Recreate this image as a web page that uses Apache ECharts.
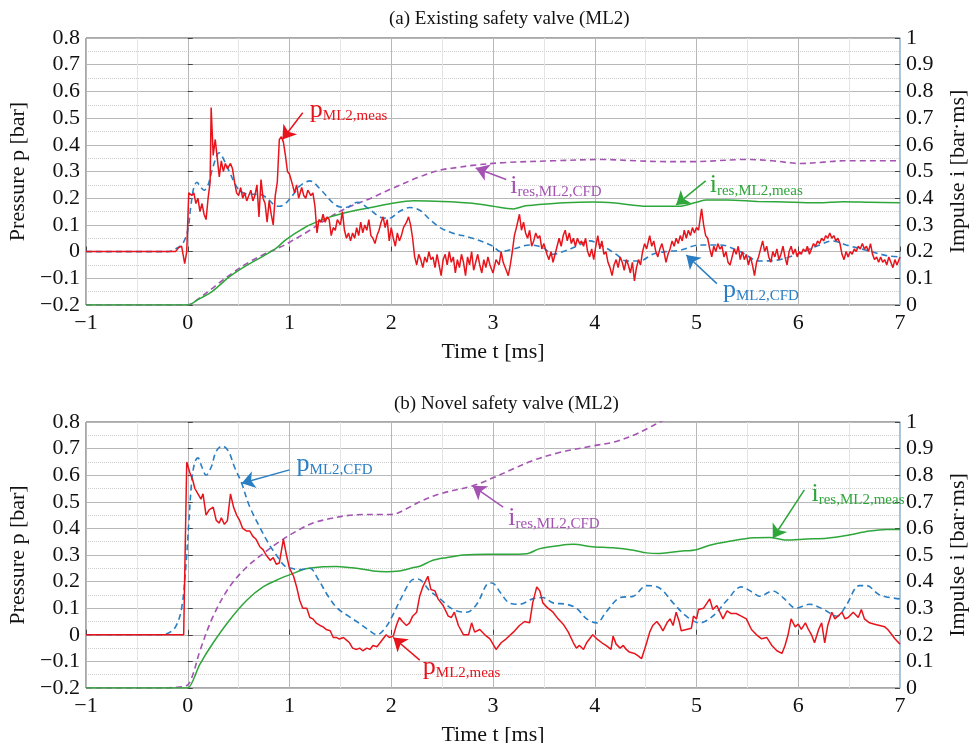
<!DOCTYPE html>
<html>
<head>
<meta charset="utf-8">
<script src="https://cdn.jsdelivr.net/npm/echarts@6/dist/echarts.min.js"></script>
<style>
  html, body { margin: 0; padding: 0; background: #fff; }
  #chart { width: 970px; height: 743px; }
</style>
</head>
<body>
<div id="chart"></div>
<script>
// (a) existing safety valve: [t (ms), value]
const measA = [[-1,0],[-0.12,0],[-0.09,0.015],[-0.06,0.02],[-0.03,-0.045],[-0.01,0.0],[0.01,0.22],[0.04,0.21],[0.06,0.22],[0.08,0.18],[0.1,0.2],[0.12,0.15],[0.14,0.18],[0.16,0.14],[0.18,0.12],[0.2,0.2],[0.22,0.26],[0.23,0.54],[0.25,0.36],[0.27,0.42],[0.29,0.35],[0.31,0.28],[0.33,0.34],[0.35,0.3],[0.37,0.33],[0.39,0.31],[0.42,0.33],[0.44,0.31],[0.46,0.26],[0.48,0.22],[0.5,0.21],[0.52,0.24],[0.54,0.2],[0.56,0.22],[0.58,0.19],[0.6,0.21],[0.62,0.23],[0.64,0.19],[0.66,0.21],[0.68,0.25],[0.7,0.13],[0.72,0.27],[0.74,0.2],[0.76,0.18],[0.78,0.11],[0.8,0.19],[0.82,0.14],[0.84,0.1],[0.86,0.21],[0.88,0.26],[0.9,0.42],[0.92,0.43],[0.94,0.41],[0.96,0.36],[0.98,0.3],[1.0,0.29],[1.03,0.25],[1.05,0.22],[1.07,0.25],[1.09,0.2],[1.12,0.24],[1.14,0.21],[1.16,0.2],[1.18,0.23],[1.21,0.21],[1.23,0.22],[1.25,0.17],[1.27,0.07],[1.29,0.12],[1.31,0.11],[1.33,0.14],[1.35,0.11],[1.37,0.13],[1.39,0.12],[1.41,0.06],[1.43,0.09],[1.45,0.08],[1.47,0.12],[1.5,0.1],[1.52,0.15],[1.54,0.08],[1.56,0.05],[1.58,0.07],[1.6,0.04],[1.62,0.07],[1.64,0.05],[1.66,0.09],[1.68,0.06],[1.7,0.11],[1.72,0.07],[1.74,0.1],[1.76,0.08],[1.78,0.12],[1.8,0.06],[1.82,0.05],[1.84,0.03],[1.86,0.06],[1.88,0.08],[1.9,0.11],[1.92,0.13],[1.94,0.09],[1.96,0.12],[1.98,0.04],[2.0,0.09],[2.02,0.05],[2.04,0.02],[2.06,0.07],[2.08,0.04],[2.1,0.06],[2.12,0.09],[2.15,0.11],[2.17,0.13],[2.19,0.1],[2.21,0.05],[2.23,-0.02],[2.25,-0.05],[2.27,-0.01],[2.29,-0.03],[2.31,-0.06],[2.33,-0.02],[2.35,-0.04],[2.37,0.0],[2.39,-0.03],[2.41,-0.02],[2.43,-0.06],[2.45,-0.01],[2.47,-0.05],[2.49,-0.09],[2.51,-0.03],[2.53,-0.01],[2.55,-0.05],[2.57,0.0],[2.59,-0.04],[2.61,-0.02],[2.63,-0.08],[2.65,-0.03],[2.67,-0.06],[2.69,-0.01],[2.71,-0.04],[2.73,-0.09],[2.75,-0.02],[2.77,-0.05],[2.79,0.0],[2.81,-0.07],[2.83,-0.04],[2.85,-0.01],[2.87,-0.05],[2.89,-0.08],[2.91,-0.03],[2.93,-0.06],[2.95,-0.02],[2.97,-0.05],[3.0,-0.08],[3.03,-0.03],[3.06,-0.05],[3.08,0.0],[3.1,-0.04],[3.13,-0.07],[3.15,-0.09],[3.17,-0.05],[3.19,0.0],[3.21,0.06],[3.23,0.09],[3.26,0.14],[3.28,0.08],[3.3,0.11],[3.32,0.07],[3.34,0.05],[3.36,0.08],[3.38,0.02],[3.4,0.04],[3.42,0.07],[3.44,0.05],[3.46,0.06],[3.48,0.01],[3.5,0.03],[3.53,-0.01],[3.55,-0.03],[3.57,0.0],[3.59,-0.04],[3.61,-0.01],[3.63,0.02],[3.65,0.05],[3.67,0.02],[3.69,0.06],[3.71,0.08],[3.73,0.04],[3.75,0.07],[3.77,0.03],[3.79,0.05],[3.81,0.02],[3.83,0.05],[3.85,0.03],[3.87,0.04],[3.89,0.02],[3.91,0.05],[3.93,0.0],[3.95,-0.02],[3.97,0.01],[3.99,-0.03],[4.01,0.02],[4.03,0.06],[4.05,0.01],[4.07,0.04],[4.09,-0.01],[4.11,0.0],[4.13,-0.04],[4.15,-0.06],[4.17,-0.09],[4.19,-0.05],[4.21,-0.03],[4.23,-0.06],[4.25,-0.02],[4.27,-0.04],[4.29,-0.07],[4.31,-0.03],[4.33,-0.05],[4.35,-0.08],[4.37,-0.04],[4.39,-0.11],[4.41,-0.06],[4.43,-0.03],[4.45,-0.05],[4.47,0.0],[4.49,0.03],[4.51,0.01],[4.54,0.06],[4.56,0.02],[4.58,0.04],[4.6,0.0],[4.62,-0.02],[4.64,0.01],[4.66,0.03],[4.68,0.0],[4.7,-0.04],[4.72,-0.01],[4.74,0.01],[4.76,0.04],[4.78,0.02],[4.8,0.05],[4.82,0.03],[4.84,0.06],[4.86,0.04],[4.88,0.08],[4.9,0.05],[4.92,0.08],[4.94,0.06],[4.96,0.09],[4.98,0.07],[5.0,0.09],[5.02,0.08],[5.05,0.16],[5.07,0.1],[5.09,0.06],[5.11,0.05],[5.13,0.01],[5.15,-0.02],[5.17,0.02],[5.19,0.0],[5.21,0.03],[5.23,0.01],[5.25,0.02],[5.27,-0.02],[5.29,0.0],[5.31,-0.04],[5.33,-0.05],[5.35,-0.02],[5.37,0.01],[5.39,-0.01],[5.41,0.02],[5.43,-0.03],[5.45,0.0],[5.47,-0.03],[5.49,-0.01],[5.51,-0.05],[5.53,-0.02],[5.55,-0.05],[5.57,-0.09],[5.59,-0.04],[5.61,-0.02],[5.63,0.01],[5.65,0.04],[5.67,0.0],[5.69,0.02],[5.71,-0.02],[5.73,-0.04],[5.75,0.0],[5.77,-0.02],[5.79,0.01],[5.81,-0.03],[5.83,-0.01],[5.85,0.02],[5.87,-0.02],[5.89,-0.05],[5.91,0.0],[5.93,0.02],[5.95,-0.01],[5.97,0.01],[5.99,-0.02],[6.01,0.0],[6.03,-0.01],[6.05,0.01],[6.07,0.0],[6.09,0.02],[6.11,-0.01],[6.13,0.01],[6.15,0.03],[6.17,0.02],[6.19,0.04],[6.21,0.03],[6.23,0.05],[6.25,0.04],[6.27,0.06],[6.29,0.05],[6.31,0.07],[6.33,0.05],[6.35,0.06],[6.37,0.04],[6.39,0.05],[6.41,0.03],[6.43,-0.01],[6.45,-0.03],[6.47,0.0],[6.49,-0.02],[6.51,0.0],[6.53,-0.01],[6.55,0.01],[6.57,0.0],[6.59,0.02],[6.61,0.01],[6.63,0.03],[6.65,0.01],[6.67,0.02],[6.69,0.0],[6.71,0.03],[6.73,-0.01],[6.75,-0.03],[6.77,-0.02],[6.79,-0.04],[6.81,-0.02],[6.83,-0.04],[6.85,-0.03],[6.87,-0.05],[6.89,-0.02],[6.91,-0.04],[6.93,-0.06],[6.95,-0.03],[6.97,-0.05],[7.0,-0.02]];
const cfdA = [[-1,0],[-0.2,0],[-0.12,0.01],[-0.05,0.03],[0,0.08],[0.03,0.17],[0.06,0.24],[0.09,0.26],[0.12,0.245],[0.16,0.23],[0.2,0.25],[0.25,0.32],[0.31,0.37],[0.36,0.34],[0.42,0.29],[0.47,0.25],[0.52,0.225],[0.6,0.215],[0.7,0.215],[0.78,0.2],[0.85,0.175],[0.9,0.17],[0.96,0.18],[1.03,0.21],[1.1,0.245],[1.2,0.265],[1.3,0.235],[1.45,0.175],[1.55,0.165],[1.67,0.185],[1.78,0.16],[1.9,0.128],[1.98,0.125],[2.08,0.15],[2.18,0.165],[2.28,0.155],[2.38,0.12],[2.48,0.09],[2.6,0.07],[2.8,0.05],[3.0,0.02],[3.07,0.0],[3.2,0.01],[3.36,0.025],[3.49,0.015],[3.59,-0.01],[3.69,0.0],[3.82,0.02],[3.95,0.04],[4.08,0.02],[4.21,-0.01],[4.31,-0.035],[4.44,-0.035],[4.57,-0.01],[4.7,0.0],[4.84,0.005],[5.03,0.025],[5.23,0.025],[5.43,0.0],[5.62,-0.035],[5.82,-0.03],[6.02,-0.005],[6.21,0.025],[6.34,0.04],[6.47,0.025],[6.67,0.005],[6.87,-0.015],[7.0,-0.02]];
const iCfdA = [[-1,0],[-0.1,0],[0,0.0],[0.1,0.022],[0.22,0.056],[0.3,0.08],[0.44,0.12],[0.6,0.16],[0.75,0.19],[0.9,0.215],[1.0,0.235],[1.2,0.28],[1.4,0.33],[1.6,0.37],[1.8,0.4],[2.0,0.435],[2.28,0.48],[2.48,0.505],[2.65,0.515],[2.8,0.523],[3.1,0.533],[3.59,0.54],[4.08,0.545],[4.41,0.54],[4.7,0.537],[4.97,0.537],[5.49,0.545],[5.75,0.54],[6.02,0.53],[6.25,0.535],[6.44,0.54],[7.0,0.54]];
const iMeasA = [[-1,0],[0,0],[0.1,0.02],[0.22,0.045],[0.3,0.07],[0.41,0.106],[0.5,0.13],[0.61,0.155],[0.75,0.185],[0.87,0.213],[0.95,0.24],[1.03,0.262],[1.12,0.283],[1.2,0.3],[1.4,0.33],[1.6,0.35],[1.8,0.365],[2.0,0.38],[2.22,0.39],[2.5,0.388],[2.77,0.382],[3.0,0.37],[3.2,0.36],[3.3,0.37],[3.45,0.376],[3.7,0.383],[3.98,0.386],[4.2,0.382],[4.51,0.37],[4.84,0.37],[5.0,0.385],[5.1,0.393],[5.3,0.393],[5.6,0.388],[5.95,0.385],[6.2,0.383],[6.44,0.387],[6.7,0.385],[7.0,0.383]];

// (b) novel safety valve
const measB = [[-1,0],[-0.04,0],[-0.01,0.65],[0.0,0.65],[0.02,0.61],[0.05,0.58],[0.07,0.55],[0.1,0.53],[0.13,0.51],[0.15,0.53],[0.18,0.45],[0.21,0.47],[0.25,0.48],[0.28,0.43],[0.31,0.42],[0.33,0.44],[0.36,0.415],[0.39,0.43],[0.42,0.53],[0.45,0.48],[0.48,0.45],[0.51,0.43],[0.54,0.4],[0.58,0.39],[0.61,0.39],[0.64,0.37],[0.67,0.36],[0.71,0.33],[0.74,0.32],[0.77,0.3],[0.81,0.28],[0.84,0.29],[0.87,0.265],[0.9,0.27],[0.94,0.36],[0.97,0.3],[1.0,0.25],[1.04,0.22],[1.07,0.18],[1.1,0.13],[1.13,0.1],[1.17,0.1],[1.2,0.065],[1.23,0.06],[1.26,0.045],[1.3,0.035],[1.33,0.03],[1.36,0.02],[1.4,0.015],[1.43,-0.01],[1.46,-0.01],[1.49,-0.016],[1.53,-0.01],[1.56,-0.02],[1.59,-0.03],[1.62,-0.05],[1.66,-0.055],[1.69,-0.05],[1.72,-0.06],[1.76,-0.05],[1.79,-0.055],[1.82,-0.04],[1.86,-0.045],[1.89,-0.03],[1.92,-0.015],[1.95,0.0],[1.98,-0.01],[2.02,-0.005],[2.05,0.035],[2.08,0.065],[2.11,0.05],[2.15,0.035],[2.18,0.045],[2.21,0.07],[2.25,0.085],[2.28,0.146],[2.31,0.18],[2.36,0.22],[2.39,0.17],[2.43,0.165],[2.46,0.135],[2.51,0.11],[2.56,0.07],[2.59,0.065],[2.62,0.085],[2.66,0.035],[2.71,0.0],[2.76,0.0],[2.79,0.045],[2.82,0.01],[2.87,0.02],[2.92,0.0],[2.97,-0.015],[3.0,-0.035],[3.03,-0.055],[3.08,-0.03],[3.13,-0.015],[3.2,0.01],[3.26,0.035],[3.31,0.05],[3.36,0.045],[3.39,0.12],[3.43,0.18],[3.46,0.165],[3.49,0.12],[3.54,0.1],[3.59,0.085],[3.64,0.06],[3.69,0.04],[3.74,0.01],[3.79,-0.03],[3.82,-0.05],[3.85,-0.04],[3.89,-0.055],[3.92,-0.03],[3.95,-0.015],[3.98,0.0],[4.02,-0.015],[4.07,-0.03],[4.11,-0.04],[4.16,-0.055],[4.18,-0.005],[4.21,-0.035],[4.25,-0.05],[4.28,-0.04],[4.31,-0.055],[4.34,-0.065],[4.39,-0.07],[4.43,-0.08],[4.46,-0.09],[4.51,-0.03],[4.54,0.01],[4.57,0.035],[4.61,0.05],[4.64,0.035],[4.67,0.015],[4.71,0.045],[4.74,0.06],[4.77,0.035],[4.8,0.085],[4.83,0.05],[4.85,0.015],[4.9,0.02],[4.95,0.025],[4.97,0.07],[5.0,0.06],[5.02,0.095],[5.07,0.1],[5.13,0.135],[5.16,0.095],[5.2,0.11],[5.23,0.085],[5.26,0.06],[5.3,0.09],[5.34,0.08],[5.39,0.08],[5.44,0.07],[5.49,0.06],[5.54,0.02],[5.59,0.0],[5.64,-0.015],[5.69,-0.01],[5.74,-0.04],[5.79,-0.06],[5.84,-0.07],[5.87,-0.04],[5.9,0.0],[5.93,0.06],[5.97,0.03],[6.0,0.04],[6.03,0.02],[6.07,0.045],[6.1,0.02],[6.13,0.0],[6.16,-0.03],[6.2,0.02],[6.23,0.045],[6.26,-0.03],[6.29,0.035],[6.33,0.085],[6.36,0.06],[6.39,0.07],[6.43,0.085],[6.46,0.06],[6.49,0.065],[6.54,0.085],[6.59,0.065],[6.62,0.095],[6.65,0.06],[6.7,0.045],[6.75,0.04],[6.8,0.035],[6.85,0.03],[6.88,0.02],[6.92,0.0],[6.95,-0.015],[7.0,-0.035]];
const cfdB = [[-1,0],[-0.3,0],[-0.2,0.005],[-0.12,0.03],[-0.06,0.1],[-0.02,0.25],[0.01,0.42],[0.04,0.58],[0.07,0.65],[0.1,0.665],[0.14,0.63],[0.18,0.6],[0.23,0.63],[0.28,0.69],[0.34,0.71],[0.4,0.69],[0.46,0.63],[0.53,0.57],[0.6,0.49],[0.7,0.41],[0.8,0.34],[0.87,0.3],[0.95,0.26],[1.02,0.25],[1.1,0.245],[1.2,0.25],[1.28,0.21],[1.38,0.145],[1.47,0.1],[1.58,0.07],[1.68,0.045],[1.77,0.02],[1.86,0.0],[1.94,0.025],[2.01,0.07],[2.1,0.14],[2.2,0.205],[2.26,0.21],[2.38,0.165],[2.48,0.135],[2.61,0.095],[2.74,0.085],[2.84,0.115],[2.94,0.19],[2.99,0.195],[3.07,0.16],[3.16,0.12],[3.26,0.115],[3.39,0.135],[3.49,0.14],[3.59,0.12],[3.72,0.115],[3.82,0.1],[3.92,0.06],[4.02,0.045],[4.11,0.085],[4.25,0.14],[4.38,0.145],[4.51,0.185],[4.64,0.175],[4.77,0.12],[4.9,0.07],[5.03,0.045],[5.16,0.07],[5.3,0.13],[5.44,0.18],[5.55,0.16],[5.62,0.145],[5.75,0.165],[5.85,0.14],[5.98,0.1],[6.11,0.115],[6.25,0.095],[6.38,0.07],[6.47,0.11],[6.6,0.185],[6.67,0.185],[6.8,0.15],[7.0,0.135]];
const iCfdB = [[-1,0],[-0.3,0],[-0.1,0.003],[0.0,0.012],[0.05,0.05],[0.12,0.14],[0.25,0.27],[0.41,0.38],[0.58,0.455],[0.74,0.505],[0.9,0.55],[1.07,0.59],[1.23,0.62],[1.39,0.636],[1.56,0.648],[1.72,0.652],[1.89,0.652],[2.02,0.653],[2.15,0.674],[2.28,0.7],[2.48,0.73],[2.8,0.76],[3.0,0.79],[3.2,0.824],[3.39,0.855],[3.66,0.886],[3.98,0.91],[4.18,0.924],[4.38,0.95],[4.51,0.974],[4.64,1.0],[4.75,1.02]];
const iMeasB = [[-1,0],[-0.02,0],[0.0,0.0],[0.12,0.09],[0.25,0.17],[0.41,0.255],[0.58,0.33],[0.74,0.38],[0.9,0.41],[1.03,0.43],[1.16,0.448],[1.33,0.456],[1.46,0.457],[1.66,0.45],[1.82,0.44],[1.95,0.437],[2.08,0.44],[2.21,0.452],[2.28,0.458],[2.41,0.48],[2.54,0.49],[2.71,0.5],[2.94,0.503],[3.13,0.503],[3.33,0.505],[3.46,0.524],[3.66,0.536],[3.79,0.54],[3.98,0.531],[4.18,0.527],[4.38,0.518],[4.51,0.508],[4.64,0.506],[4.84,0.514],[5.0,0.52],[5.13,0.537],[5.3,0.55],[5.56,0.565],[5.72,0.566],[5.88,0.556],[6.08,0.56],[6.28,0.563],[6.47,0.573],[6.7,0.59],[6.87,0.596],[7.0,0.596]];

const titles = ['(a) Existing safety valve (ML2)', '(b) Novel safety valve (ML2)'];

const FONT = 'Liberation Serif';
const RED = '#e8141c', BLUE = '#2a7fc4', PURPLE = '#a553b3', GREEN = '#2ea63a';

function num(v) {
  const s = String(Math.round(v * 10) / 10);
  return v < -1e-9 ? '\u2212' + s.replace('-', '') : s;
}

function xAx(g) {
  return {
    type: 'value', gridIndex: g, min: -1, max: 7, interval: 1,
    axisLine: { show: false },
    axisTick: { inside: true, length: 5, lineStyle: { color: '#444' } },
    minorTick: { show: false, splitNumber: 2 },
    axisLabel: { fontFamily: FONT, fontSize: 22, color: '#111', margin: 7, formatter: num },
    splitLine: { lineStyle: { color: '#b8b8b8' } },
    minorSplitLine: { show: true, lineStyle: { color: '#e4e4e4' } },
    name: 'Time t [ms]', nameLocation: 'middle', nameGap: 36,
    nameTextStyle: { fontFamily: FONT, fontSize: 22, color: '#111' }
  };
}
function yLeft(g) {
  return {
    type: 'value', gridIndex: g, min: -0.2, max: 0.8, interval: 0.1,
    axisLine: { show: false },
    axisTick: { inside: true, length: 5, lineStyle: { color: '#444' } },
    minorTick: { show: false, splitNumber: 2 },
    axisLabel: { fontFamily: FONT, fontSize: 22, color: '#111', margin: 6, formatter: num },
    splitLine: { lineStyle: { color: '#b8b8b8' } },
    minorSplitLine: { show: true, lineStyle: { color: '#cfcfcf', type: 'dotted' } },
    name: 'Pressure p [bar]', nameLocation: 'middle', nameGap: 42, nameRotate: 90,
    nameTextStyle: { fontFamily: FONT, fontSize: 22, color: '#111' }
  };
}
function yRight(g) {
  return {
    type: 'value', gridIndex: g, position: 'right', min: 0, max: 1, interval: 0.1,
    axisLine: { show: true, lineStyle: { color: '#a8cbe8', width: 1.5 } },
    axisTick: { inside: true, length: 5, lineStyle: { color: '#444' } },
    axisLabel: { fontFamily: FONT, fontSize: 22, color: '#111', margin: 6, formatter: num },
    splitLine: { show: false },
    name: 'Impulse i [bar\u00b7ms]', nameLocation: 'middle', nameGap: 47, nameRotate: 90,
    nameTextStyle: { fontFamily: FONT, fontSize: 22, color: '#111' }
  };
}

function label(main, sub, color) {
  return {
    show: true, position: 'right', distance: 0,
    formatter: '{m|' + main + '}{s|' + sub + '}',
    rich: {
      m: { fontFamily: FONT, fontSize: 26, color: color, lineHeight: 27 },
      s: { fontFamily: FONT, fontSize: 15, color: color, verticalAlign: 'bottom', lineHeight: 19 }
    }
  };
}

function note(color, textAt, from, tip, main, sub) {
  return {
    markPoint: {
      silent: true, symbol: 'circle', symbolSize: 0, animation: false,
      data: [{ coord: textAt, label: label(main, sub, color) }]
    },
    markLine: {
      silent: true, animation: false, symbol: ['none', 'arrow'], symbolSize: 13,
      label: { show: false },
      lineStyle: { color: color, width: 1.5, type: 'solid' },
      emphasis: { disabled: true },
      data: [[{ coord: from }, { coord: tip }]]
    }
  };
}

function line(data, g, yi, color, dashed, extra) {
  return Object.assign({
    type: 'line', data: data, xAxisIndex: g, yAxisIndex: yi,
    showSymbol: false, symbol: 'none', smooth: dashed ? 0.35 : false, animation: false,
    lineStyle: { color: color, width: dashed ? 1.6 : 1.5, type: dashed ? [6, 4] : 'solid' },
    itemStyle: { color: color }
  }, extra || {});
}

const chart = echarts.init(document.getElementById('chart'), null, { renderer: 'canvas' });
chart.setOption({
  animation: false,
  backgroundColor: '#fff',
  title: [
    { text: titles[0], left: 384, top: 5, textStyle: { fontFamily: FONT, fontSize: 19, fontWeight: 'normal', color: '#111' } },
    { text: titles[1], left: 389, top: 390, textStyle: { fontFamily: FONT, fontSize: 19, fontWeight: 'normal', color: '#111' } }
  ],
  grid: [
    { left: 86, top: 38, width: 814, height: 267, show: true, borderColor: '#505050', borderWidth: 1, outerBoundsMode: 'none', containLabel: false },
    { left: 86, top: 422, width: 814, height: 266, show: true, borderColor: '#505050', borderWidth: 1, outerBoundsMode: 'none', containLabel: false }
  ],
  xAxis: [xAx(0), xAx(1)],
  yAxis: [yLeft(0), yRight(0), yLeft(1), yRight(1)],
  series: [
    line(iCfdA, 0, 1, PURPLE, true, note(PURPLE, [3.17, 0.445], [3.13, 0.47], [2.83, 0.513], 'i', 'res,ML2,CFD')),
    line(iMeasA, 0, 1, GREEN, false, Object.assign({ smooth: 0.3 }, note(GREEN, [5.13, 0.45], [5.09, 0.465], [4.8, 0.375], 'i', 'res,ML2,meas'))),
    line(cfdA, 0, 0, BLUE, true, note(BLUE, [5.26, -0.144], [5.2, -0.12], [4.9, -0.013], 'p', 'ML2,CFD')),
    line(measA, 0, 0, RED, false, note(RED, [1.2, 0.53], [1.13, 0.52], [0.93, 0.42], 'p', 'ML2,meas')),

    line(iCfdB, 1, 3, PURPLE, true, note(PURPLE, [3.15, 0.64], [3.1, 0.68], [2.8, 0.76], 'i', 'res,ML2,CFD')),
    line(iMeasB, 1, 3, GREEN, false, Object.assign({ smooth: 0.3 }, note(GREEN, [6.13, 0.73], [6.06, 0.745], [5.75, 0.563], 'i', 'res,ML2,meas'))),
    line(cfdB, 1, 2, BLUE, true, note(BLUE, [1.07, 0.64], [1.0, 0.62], [0.53, 0.57], 'p', 'ML2,CFD')),
    line(measB, 1, 2, RED, false, note(RED, [2.31, -0.12], [2.28, -0.095], [2.02, -0.01], 'p', 'ML2,meas'))
  ]
});
</script>
</body>
</html>
